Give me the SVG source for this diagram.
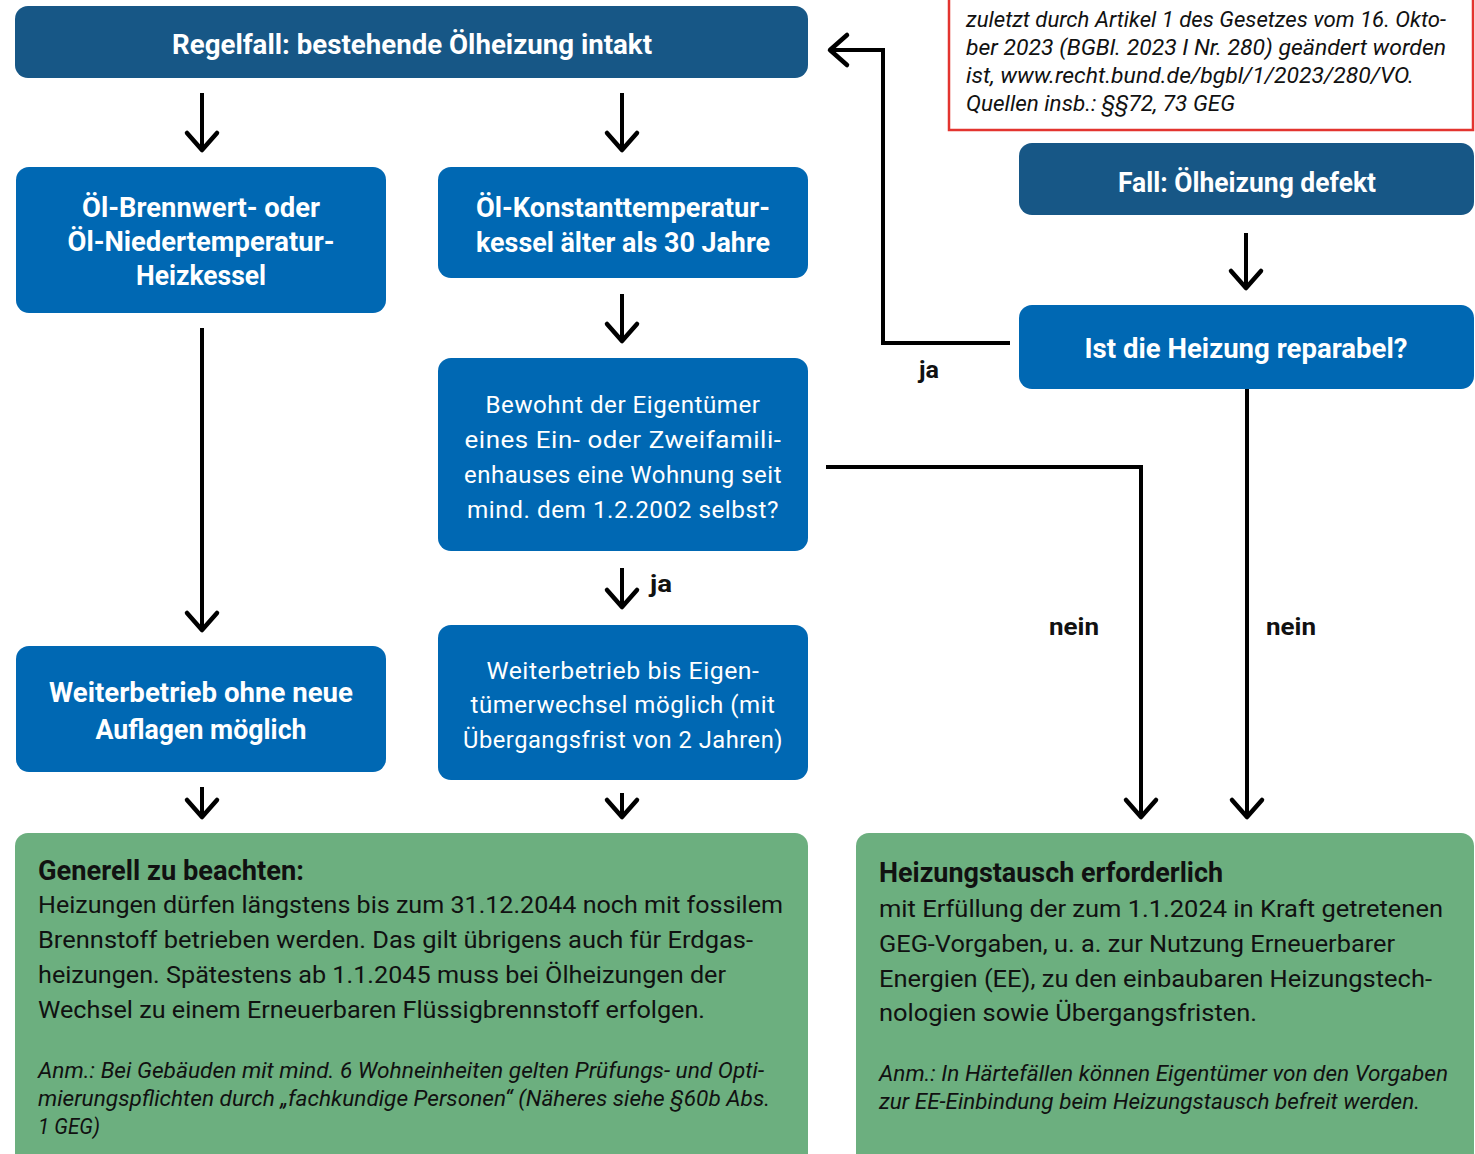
<svg xmlns="http://www.w3.org/2000/svg" width="1475" height="1154" viewBox="0 0 1475 1154">
<defs>
<style>
text{font-family:"Liberation Sans Narrow","Roboto","Liberation Sans",sans-serif;}
.dark{fill:#175786;}
.mid{fill:#0068b3;}
.green{fill:#6caf7f;}
.hw{fill:#fff;font-weight:bold;font-size:28px;text-anchor:middle;}
.rw{fill:#fff;font-size:23px;text-anchor:middle;letter-spacing:0.5px;}
.gh{fill:#111;font-weight:bold;font-size:27px;}
.gb{fill:#111;font-size:24px;}
.gi{fill:#111;font-size:22px;font-style:italic;}
.lbl{fill:#111;font-weight:bold;font-size:24px;}
.con{fill:none;stroke:#000;stroke-width:4;marker-end:url(#arr);}
</style>
<marker id="arr" markerUnits="userSpaceOnUse" markerWidth="44" markerHeight="44" viewBox="-22 -22 44 44" refX="0" refY="0" orient="auto">
<path d="M-17,-15 L0,0 L-17,15" fill="none" stroke="#000" stroke-width="4.5" stroke-linecap="round" stroke-linejoin="round"/>
</marker>
</defs>
<rect width="1475" height="1154" fill="#fff"/>

<g id="n_quelle">
<rect x="949" y="-20" width="524" height="150" fill="#fff" stroke="#e3342f" stroke-width="2.5"/>
<text class="gi" x="966" y="27" textLength="480" lengthAdjust="spacingAndGlyphs">zuletzt durch Artikel 1 des Gesetzes vom 16. Okto-</text>
<text class="gi" x="966" y="55" textLength="480" lengthAdjust="spacingAndGlyphs">ber 2023 (BGBl. 2023 I Nr. 280) geändert worden</text>
<text class="gi" x="966" y="83" textLength="448" lengthAdjust="spacingAndGlyphs">ist, www.recht.bund.de/bgbl/1/2023/280/VO.</text>
<text class="gi" x="966" y="111" textLength="269" lengthAdjust="spacingAndGlyphs">Quellen insb.: §§72, 73 GEG</text>
</g>

<g id="n_regelfall">
<rect class="dark" x="15" y="6" width="793" height="72" rx="13"/>
<text class="hw" x="412" y="54" textLength="480" lengthAdjust="spacingAndGlyphs">Regelfall: bestehende Ölheizung intakt</text>
</g>

<g id="n_brennwert">
<rect class="mid" x="16" y="167" width="370" height="146" rx="13"/>
<text class="hw" x="201" y="217" textLength="238" lengthAdjust="spacingAndGlyphs">Öl-Brennwert- oder</text>
<text class="hw" x="201" y="251" textLength="267" lengthAdjust="spacingAndGlyphs">Öl-Niedertemperatur-</text>
<text class="hw" x="201" y="285" textLength="130" lengthAdjust="spacingAndGlyphs">Heizkessel</text>
</g>

<g id="n_konstant">
<rect class="mid" x="438" y="167" width="370" height="111" rx="13"/>
<text class="hw" x="623" y="217" textLength="294" lengthAdjust="spacingAndGlyphs">Öl-Konstanttemperatur-</text>
<text class="hw" x="623" y="252" textLength="294" lengthAdjust="spacingAndGlyphs">kessel älter als 30 Jahre</text>
</g>

<g id="n_bewohnt">
<rect class="mid" x="438" y="358" width="370" height="193" rx="13"/>
<text class="rw" x="623" y="413" textLength="275" lengthAdjust="spacingAndGlyphs">Bewohnt der Eigentümer</text>
<text class="rw" x="623" y="448" textLength="317" lengthAdjust="spacingAndGlyphs">eines Ein- oder Zweifamili-</text>
<text class="rw" x="623" y="483" textLength="318" lengthAdjust="spacingAndGlyphs">enhauses eine Wohnung seit</text>
<text class="rw" x="623" y="518" textLength="312" lengthAdjust="spacingAndGlyphs">mind. dem 1.2.2002 selbst?</text>
</g>

<g id="n_ohne">
<rect class="mid" x="16" y="646" width="370" height="126" rx="13"/>
<text class="hw" x="201" y="702" textLength="304" lengthAdjust="spacingAndGlyphs">Weiterbetrieb ohne neue</text>
<text class="hw" x="201" y="739" textLength="211" lengthAdjust="spacingAndGlyphs">Auflagen möglich</text>
</g>

<g id="n_bis">
<rect class="mid" x="438" y="625" width="370" height="155" rx="13"/>
<text class="rw" x="623" y="679" textLength="273" lengthAdjust="spacingAndGlyphs">Weiterbetrieb bis Eigen-</text>
<text class="rw" x="623" y="713" textLength="305" lengthAdjust="spacingAndGlyphs">tümerwechsel möglich (mit</text>
<text class="rw" x="623" y="748" textLength="320" lengthAdjust="spacingAndGlyphs">Übergangsfrist von 2 Jahren)</text>
</g>

<g id="n_fall">
<rect class="dark" x="1019" y="143" width="455" height="72" rx="13"/>
<text class="hw" x="1247" y="192" textLength="258" lengthAdjust="spacingAndGlyphs">Fall: Ölheizung defekt</text>
</g>

<g id="n_reparabel">
<rect class="mid" x="1019" y="305" width="455" height="84" rx="13"/>
<text class="hw" x="1246" y="358" textLength="323" lengthAdjust="spacingAndGlyphs">Ist die Heizung reparabel?</text>
</g>

<g id="n_generell">
<rect class="green" x="15" y="833" width="793" height="340" rx="13"/>
<text class="gh" x="38" y="880" textLength="266" lengthAdjust="spacingAndGlyphs">Generell zu beachten:</text>
<text class="gb" x="38" y="913" textLength="745" lengthAdjust="spacingAndGlyphs">Heizungen dürfen längstens bis zum 31.12.2044 noch mit fossilem</text>
<text class="gb" x="38" y="948" textLength="715" lengthAdjust="spacingAndGlyphs">Brennstoff betrieben werden. Das gilt übrigens auch für Erdgas-</text>
<text class="gb" x="38" y="983" textLength="688" lengthAdjust="spacingAndGlyphs">heizungen. Spätestens ab 1.1.2045 muss bei Ölheizungen der</text>
<text class="gb" x="38" y="1018" textLength="667" lengthAdjust="spacingAndGlyphs">Wechsel zu einem Erneuerbaren Flüssigbrennstoff erfolgen.</text>
<text class="gi" x="38" y="1078" textLength="726" lengthAdjust="spacingAndGlyphs">Anm.: Bei Gebäuden mit mind. 6 Wohneinheiten gelten Prüfungs- und Opti-</text>
<text class="gi" x="38" y="1106" textLength="732" lengthAdjust="spacingAndGlyphs">mierungspflichten durch „fachkundige Personen“ (Näheres siehe §60b Abs.</text>
<text class="gi" x="38" y="1134" textLength="62" lengthAdjust="spacingAndGlyphs">1 GEG)</text>
</g>

<g id="n_tausch">
<rect class="green" x="856" y="833" width="618" height="340" rx="13"/>
<text class="gh" x="879" y="882" textLength="344" lengthAdjust="spacingAndGlyphs">Heizungstausch erforderlich</text>
<text class="gb" x="879" y="917" textLength="564" lengthAdjust="spacingAndGlyphs">mit Erfüllung der zum 1.1.2024 in Kraft getretenen</text>
<text class="gb" x="879" y="952" textLength="516" lengthAdjust="spacingAndGlyphs">GEG-Vorgaben, u. a. zur Nutzung Erneuerbarer</text>
<text class="gb" x="879" y="987" textLength="553" lengthAdjust="spacingAndGlyphs">Energien (EE), zu den einbaubaren Heizungstech-</text>
<text class="gb" x="879" y="1021" textLength="378" lengthAdjust="spacingAndGlyphs">nologien sowie Übergangsfristen.</text>
<text class="gi" x="879" y="1081" textLength="569" lengthAdjust="spacingAndGlyphs">Anm.: In Härtefällen können Eigentümer von den Vorgaben</text>
<text class="gi" x="879" y="1109" textLength="541" lengthAdjust="spacingAndGlyphs">zur EE-Einbindung beim Heizungstausch befreit werden.</text>
</g>

<g id="connectors">
<path class="con" d="M202,93 V150"/>
<path class="con" d="M622,93 V150"/>
<path class="con" d="M622,294 V341"/>
<path class="con" d="M202,328 V630"/>
<path class="con" d="M622,568 V607"/>
<path class="con" d="M202,787 V817"/>
<path class="con" d="M622,793 V817"/>
<path class="con" d="M1246,233 V288"/>
<path class="con" d="M1010,343 H883 V50 H830"/>
<path class="con" d="M826,467 H1141 V817"/>
<path class="con" d="M1247,389 V817"/>
<text class="lbl" x="919" y="378" textLength="20" lengthAdjust="spacingAndGlyphs">ja</text>
<text class="lbl" x="650" y="592" textLength="22" lengthAdjust="spacingAndGlyphs">ja</text>
<text class="lbl" x="1049" y="635" textLength="50" lengthAdjust="spacingAndGlyphs">nein</text>
<text class="lbl" x="1266" y="635" textLength="50" lengthAdjust="spacingAndGlyphs">nein</text>
</g>
</svg>
